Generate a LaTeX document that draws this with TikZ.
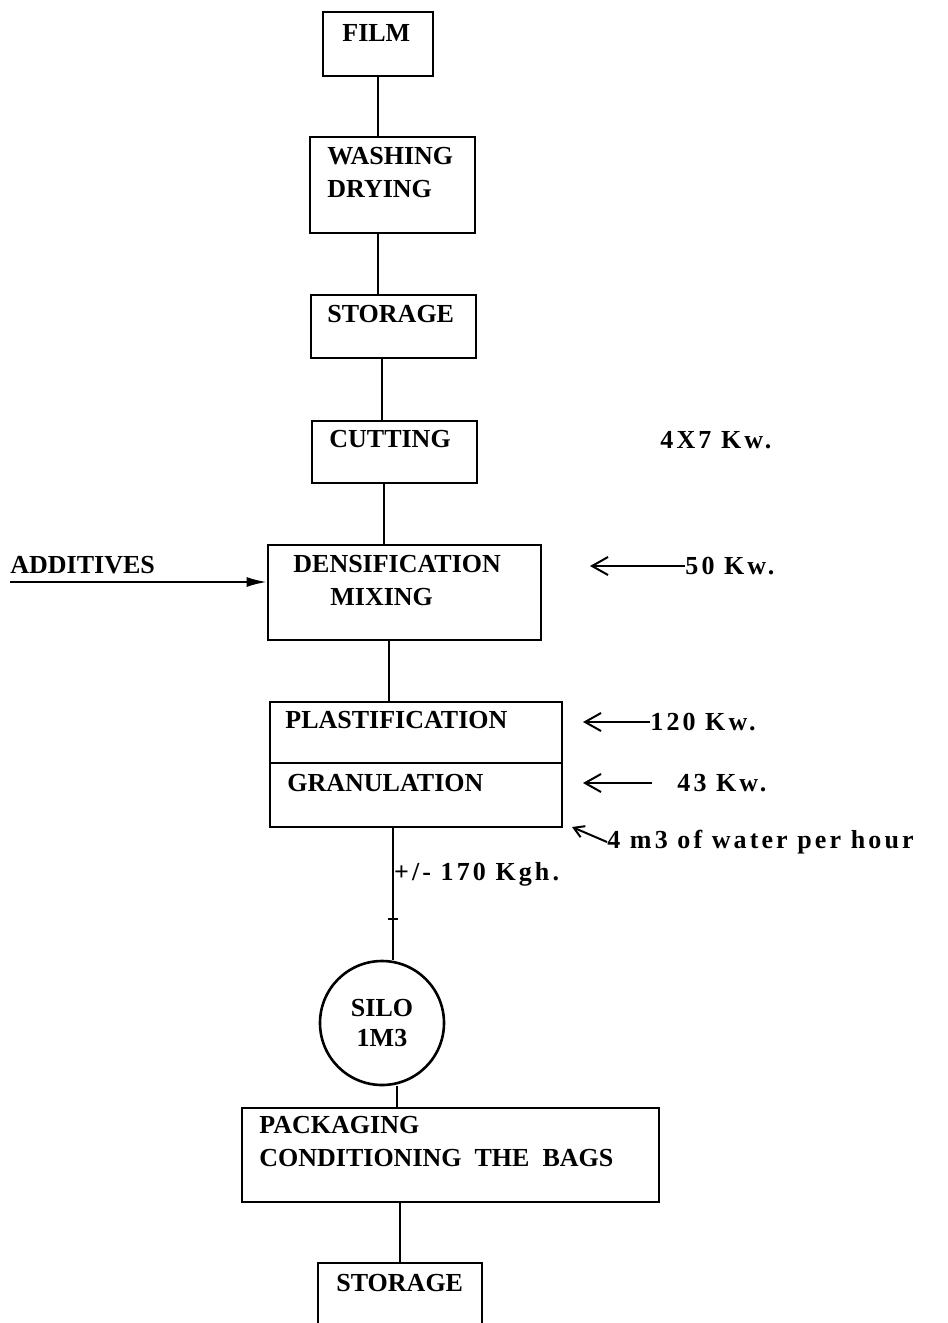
\documentclass[tikz,border=0pt]{standalone}
\usepackage{fontspec}
\setmainfont{Liberation Serif}
\newfontfamily\kwfont[LetterSpace=12]{Liberation Serif}
\usetikzlibrary{arrows.meta,calc}

\begin{document}
\begin{tikzpicture}[x=0.5pt,y=-0.5pt,>=Latex,
  box/.style={draw,line width=1.3pt,inner sep=0pt},
  txt/.style={anchor=west,inner sep=0pt,align=left,font=\bfseries\fontsize{13}{16.5}\selectfont},
  note/.style={anchor=west,inner sep=0pt,font=\kwfont\bfseries\fontsize{13}{16}\selectfont},
  link/.style={line width=1.1pt},
  feed/.style={line width=1pt,-{Straight Barb[length=8pt,width=9pt]}}]
\useasboundingbox (0,0) rectangle (948,1323);

\node[box,minimum width=55pt,minimum height=32pt] (film) at (378,44) {};
\node[box,minimum width=82.5pt,minimum height=48pt] (wash) at (392.5,185) {};
\node[box,minimum width=82.5pt,minimum height=31.5pt] (stor1) at (393.5,326.5) {};
\node[box,minimum width=82.5pt,minimum height=31pt] (cut) at (394.5,452) {};
\node[box,minimum width=136.5pt,minimum height=47.5pt] (dens) at (404.5,592.5) {};
\node[box,minimum width=146pt,minimum height=30.5pt] (plas) at (416,732.5) {};
\node[box,minimum width=146pt,minimum height=32pt] (gran) at (416,795) {};
\node[box,circle,minimum size=62pt,align=center,font=\bfseries\fontsize{13}{15}\selectfont] (silo) at (382,1023) {SILO\\1M3};
\node[box,minimum width=208.5pt,minimum height=47pt] (pack) at (450.5,1155) {};
\node[box,minimum width=82pt,minimum height=38pt] (stor2) at (400,1301) {};

\node[txt] (tfilm) at (342,33) {FILM};
\node[txt] (twash) at (327,173) {WASHING\\DRYING};
\node[txt] (tstor1) at (327,314) {STORAGE};
\node[txt] (tcut) at (329,439) {CUTTING};
\node[txt] (tdens) at (293,581) {DENSIFICATION\\\hspace*{18.5pt}MIXING};
\node[txt] (tplas) at (285,720) {PLASTIFICATION};
\node[txt] (tgran) at (287,783) {GRANULATION};
\node[txt] (tpack) at (259,1142) {PACKAGING\\CONDITIONING\ \ THE\ \ BAGS};
\node[txt] (tstor2) at (336,1283) {STORAGE};

\node[txt,anchor=south west,inner ysep=4pt] (add) at (10,582) {ADDITIVES};
\draw[line width=1pt,-{Latex[length=10pt,width=5pt]}] (add.south west) -- (add.south west -| dens.west);

\node[note] (kw47) at (660,440) {4X7 Kw.};
\node[note] (kw50) at (685,566) {50 Kw.};
\node[note] (kw120) at (650,722) {120 Kw.};
\node[note] (kw43) at (677,783) {43 Kw.};
\node[note] (water) at (607,842) {4 m3 of water per hour};
\coordinate (a50) at (590,566);
\coordinate (a120) at (583,722);
\coordinate (a43) at (583,783);
\coordinate (awater) at (572,827);
\draw[feed] (kw50.west) -- (a50);
\draw[feed] (kw120.west) -- (a120);
\draw[feed] ([xshift=-12.5pt]kw43.west) -- (a43);
\draw[feed,-{Straight Barb[length=5pt,width=6pt]}] (water.west) -- (awater);

\draw[link] (film.south) -- (film.south |- wash.north);
\draw[link] ([xshift=-7.25pt]wash.south) -- ([xshift=-7.25pt]wash.south |- stor1.north);
\draw[link] ([xshift=-5.75pt]stor1.south) -- ([xshift=-5.75pt]stor1.south |- cut.north);
\draw[link] ([xshift=-5.25pt]cut.south) -- ([xshift=-5.25pt]cut.south |- dens.north);
\draw[link] ([xshift=-7.75pt]dens.south) -- ([xshift=-7.75pt]dens.south |- plas.north);
\draw[link] ([xshift=-11.5pt]gran.south) -- node[note,pos=.35] (kgh) {+/- 170 Kgh.} coordinate[pos=.69] (tick) ([xshift=-11.5pt]gran.south |- silo.north);
\draw[link] ([xshift=-2.5pt]tick) -- ([xshift=2.5pt]tick);
\draw[link] ([xshift=7.5pt]silo.south) -- ([xshift=7.5pt]silo.south |- pack.north);
\draw[link] (stor2.north |- pack.south) -- (stor2.north);
\end{tikzpicture}
\end{document}
